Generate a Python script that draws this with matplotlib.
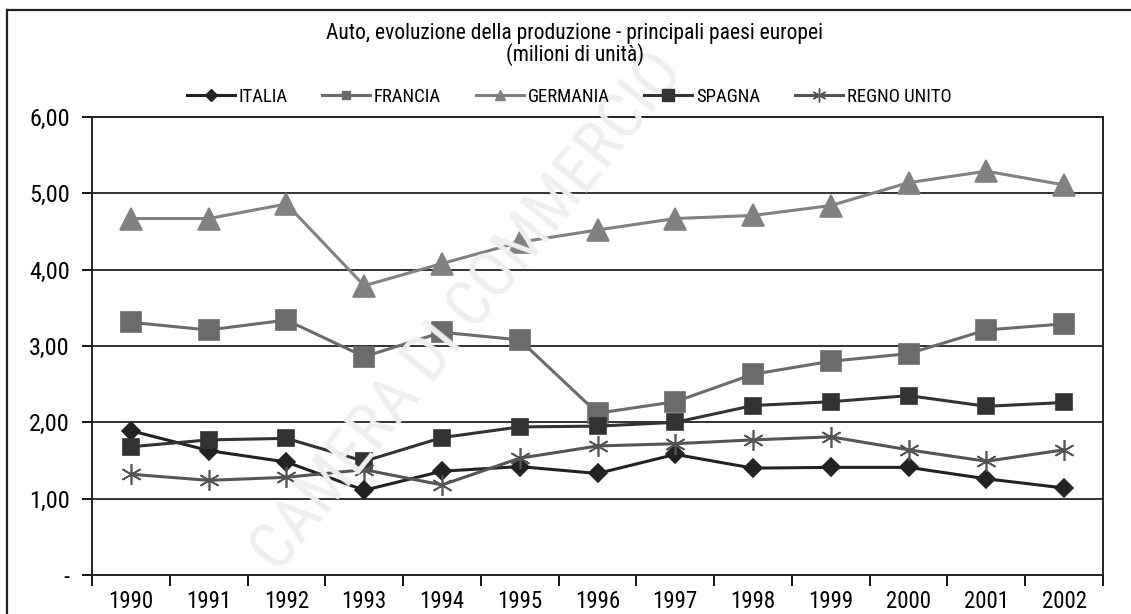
import matplotlib
matplotlib.use("Agg")
import matplotlib.pyplot as plt
from matplotlib import font_manager
from matplotlib.lines import Line2D

years = ["1990", "1991", "1992", "1993", "1994", "1995", "1996",
         "1997", "1998", "1999", "2000", "2001", "2002"]
italia = [1.89, 1.63, 1.48, 1.11, 1.36, 1.42, 1.33, 1.58, 1.40, 1.41, 1.41, 1.26, 1.14]
francia = [3.31, 3.21, 3.34, 2.86, 3.18, 3.08, 2.12, 2.27, 2.63, 2.80, 2.90, 3.21, 3.29]
germania = [4.67, 4.67, 4.86, 3.79, 4.08, 4.36, 4.52, 4.67, 4.71, 4.84, 5.14, 5.29, 5.11]
spagna = [1.68, 1.77, 1.79, 1.49, 1.80, 1.94, 1.95, 2.00, 2.22, 2.27, 2.35, 2.21, 2.26]
regno_unito = [1.32, 1.24, 1.28, 1.38, 1.18, 1.53, 1.69, 1.72, 1.77, 1.81, 1.64, 1.49, 1.64]
y_ticks = [0, 1, 2, 3, 4, 5, 6]
y_labels = ["-", "1,00", "2,00", "3,00", "4,00", "5,00", "6,00"]

# pick a condensed / narrow font if one is installed
entries = font_manager.fontManager.ttflist
names = {e.name for e in entries}
fam, stretch = "DejaVu Sans", "normal"
narrow_named = [n for n in ["Liberation Sans Narrow", "Roboto Condensed", "Open Sans Condensed",
                            "DejaVu Sans Condensed", "Noto Sans Condensed"] if n in names]
if narrow_named:
    fam = narrow_named[0]
else:
    cond = [e for e in entries if str(e.stretch) in ("condensed", "semi-condensed", "extra-condensed")
            or (isinstance(e.stretch, int) and e.stretch < 500)]
    pref = [e for e in cond if e.name in ("DejaVu Sans", "Roboto", "Open Sans", "Noto Sans", "Liberation Sans")]
    pick = pref[0] if pref else (cond[0] if cond else None)
    if pick is not None:
        fam, stretch = pick.name, "condensed"
plt.rcParams['font.family'] = [fam, 'DejaVu Sans']
plt.rcParams['font.stretch'] = stretch

fig = plt.figure(figsize=(11.31, 6.14), dpi=100)
ax = fig.add_axes([92/1131, 1-575/614, (1103-92)/1131, (575-117)/614])

# outer frame
fig.add_artist(Line2D([7/1131, 1.0], [1-10/614, 1-10/614], transform=fig.transFigure, color="#222222", lw=1.6))
fig.add_artist(Line2D([7/1131, 7/1131], [0, 1-10/614], transform=fig.transFigure, color="#222222", lw=1.6))

# watermark
fig.text(468/1131, 1-312/614, "CAMERA DI COMMERCIO", rotation=51, fontsize=47,
         color="#efefef", ha="center", va="center", zorder=0)

x = list(range(len(years)))
series = [
    ("ITALIA", italia, "#222222", "D", 9.5, 6),
    ("FRANCIA", francia, "#6b6b6e", "s", 14, 6),
    ("GERMANIA", germania, "#818184", "^", 15.5, 7),
    ("SPAGNA", spagna, "#333333", "s", 12, 9),
    ("REGNO UNITO", regno_unito, "#555558", (6, 2, 0), 15, 10),
]
handles = []
for name, vals, col, mk, ms, lms in series:
    ax.plot(x, vals, color=col, lw=2.2, marker=mk, markersize=ms,
            markerfacecolor=col, markeredgecolor=col, markeredgewidth=1.2, zorder=3)
    handles.append(Line2D([], [], color=col, lw=2.2, marker=mk, markersize=lms,
                          markerfacecolor=col, markeredgecolor=col, markeredgewidth=1.0, label=name))

ax.set_xlim(-0.5, len(years) - 0.5)
ax.set_ylim(0, 6)
ax.set_yticks(y_ticks)
ax.set_yticklabels(y_labels, fontsize=17.5)
ax.set_xticks(x)
ax.set_xticklabels(years, fontsize=16.5)
ax.tick_params(axis="x", which="major", length=0, pad=11)
ax.set_xticks([i - 0.5 for i in range(len(years) + 1)], minor=True)
ax.tick_params(axis="x", which="minor", length=8, width=1.3, direction="out")
ax.tick_params(axis="y", length=7, width=1.3, direction="out", pad=9)
for v in y_ticks[1:]:
    ax.axhline(v, color="#222222", lw=1.3, zorder=1)
for s in ["left", "bottom", "right", "top"]:
    ax.spines[s].set_color("#222222")
    ax.spines[s].set_linewidth(1.4)
ax.patch.set_alpha(0)

fig.text(575/1131, 1-33/614, "Auto, evoluzione della produzione - principali paesi europei",
         ha="center", va="center", fontsize=15.5)
fig.text(575/1131, 1-55/614, "(milioni di unità)", ha="center", va="center", fontsize=15.5)

fig.legend(handles=handles, loc="center", bbox_to_anchor=(569/1131, 1-97/614), ncol=5,
           frameon=False, fontsize=13.5, handlelength=2.56, columnspacing=1.85, handletextpad=0.2)

fig.savefig("out.png", dpi=100)
